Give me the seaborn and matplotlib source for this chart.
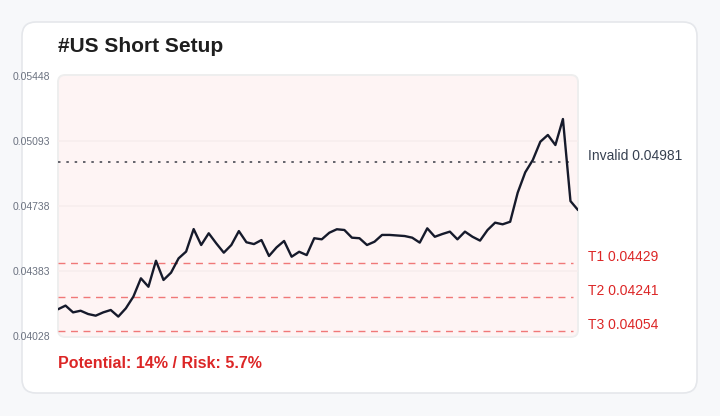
import matplotlib
matplotlib.use("Agg")
import matplotlib.pyplot as plt
from matplotlib.patches import FancyBboxPatch
import seaborn as sns
import pandas as pd
import numpy as np

# ---- data ----
prices = [0.04174, 0.04194, 0.04157, 0.04166, 0.04148, 0.04139, 0.04157, 0.04170,
          0.04134, 0.04179, 0.04243, 0.04343, 0.04297, 0.04439, 0.04334, 0.04374,
          0.04452, 0.04489, 0.04612, 0.04525, 0.04589, 0.04534, 0.04483, 0.04525,
          0.04601, 0.04540, 0.04530, 0.04552, 0.04465, 0.04512, 0.04547, 0.04461,
          0.04488, 0.04470, 0.04562, 0.04556, 0.04592, 0.04611, 0.04607, 0.04565,
          0.04562, 0.04525, 0.04543, 0.04580, 0.04580, 0.04577, 0.04574, 0.04565,
          0.04538, 0.04616, 0.04570, 0.04585, 0.04598, 0.04556, 0.04598, 0.04570,
          0.04549, 0.04607, 0.04647, 0.04638, 0.04652, 0.04811, 0.04922, 0.04989,
          0.05089, 0.05126, 0.05071, 0.05213, 0.04765, 0.04716]
level_names = ["Invalid", "T1", "T2", "T3"]
level_values = [0.04981, 0.04429, 0.04241, 0.04054]
y_ticks = [0.04028, 0.04383, 0.04738, 0.05093, 0.05448]
title = "#US Short Setup"
footer = "Potential: 14% / Risk: 5.7%"

df = pd.DataFrame({"idx": np.arange(len(prices)), "price": prices})

sns.set_theme(style="white")
plt.rcParams["font.family"] = ["Liberation Sans", "DejaVu Sans"]

W, H = 720, 416
fig = plt.figure(figsize=(W / 100, H / 100), dpi=100)
fig.patch.set_facecolor("#f7f8fa")

# background / card layer in pixel coordinates
bg = fig.add_axes([0, 0, 1, 1], zorder=-1)
bg.set_xlim(0, W)
bg.set_ylim(H, 0)
bg.axis("off")
card = FancyBboxPatch((22, 22), 675, 371, boxstyle="round,pad=0,rounding_size=14",
                      facecolor="white", edgecolor="#e5e7eb", linewidth=1.2)
bg.add_patch(card)
plot_bg = FancyBboxPatch((58, 75), 520, 262, boxstyle="round,pad=0,rounding_size=7",
                         facecolor="#fef4f4", edgecolor="#eeeeee", linewidth=1.4)
bg.add_patch(plot_bg)
bg.text(58, 46, title, fontsize=15, fontweight="bold", color="#1f1f1f",
        va="center", ha="left")
bg.text(58, 364, footer, fontsize=11.5, fontweight="bold", color="#dc2626",
        va="center", ha="left")

# main axes
ax = fig.add_axes([58 / W, (H - 336) / H, 520 / W, 260 / H])
ax.patch.set_alpha(0)
sns.lineplot(data=df, x="idx", y="price", ax=ax, color="#161a2b", linewidth=1.7, zorder=5)
ax.set_xlim(0, len(prices) - 1)
ax.set_ylim(y_ticks[0], y_ticks[-1])
ax.set_yticks(y_ticks)
ax.set_yticklabels([f"{v:.5f}" for v in y_ticks])
ax.set_xticks([])
ax.set_xlabel("")
ax.set_ylabel("")
for s in ax.spines.values():
    s.set_visible(False)
ax.tick_params(axis="y", length=0, pad=5.8, labelsize=7.5, labelcolor="#6b7280")
for t in y_ticks[1:-1]:
    ax.axhline(t, color="#f7eded", linewidth=1.2, zorder=1)

for name, val in zip(level_names, level_values):
    if name == "Invalid":
        ax.axhline(val, xmin=0, xmax=0.99, color="#4b4b55", linewidth=1.2,
                   linestyle=(0, (1.5, 3.5)), zorder=3)
        col = "#374151"
    else:
        ax.axhline(val, xmin=0, xmax=0.99, color="#f07878", linewidth=1.0,
                   linestyle=(0, (5, 4)), zorder=3)
        col = "#dc2626"
    ax.annotate(f"{name} {val:.5f}", xy=(1, val), xycoords=("axes fraction", "data"),
                xytext=(10, 6), textcoords="offset pixels", fontsize=10,
                color=col, va="center", ha="left", annotation_clip=False)

fig.savefig("out.png", dpi=100, facecolor=fig.get_facecolor())
